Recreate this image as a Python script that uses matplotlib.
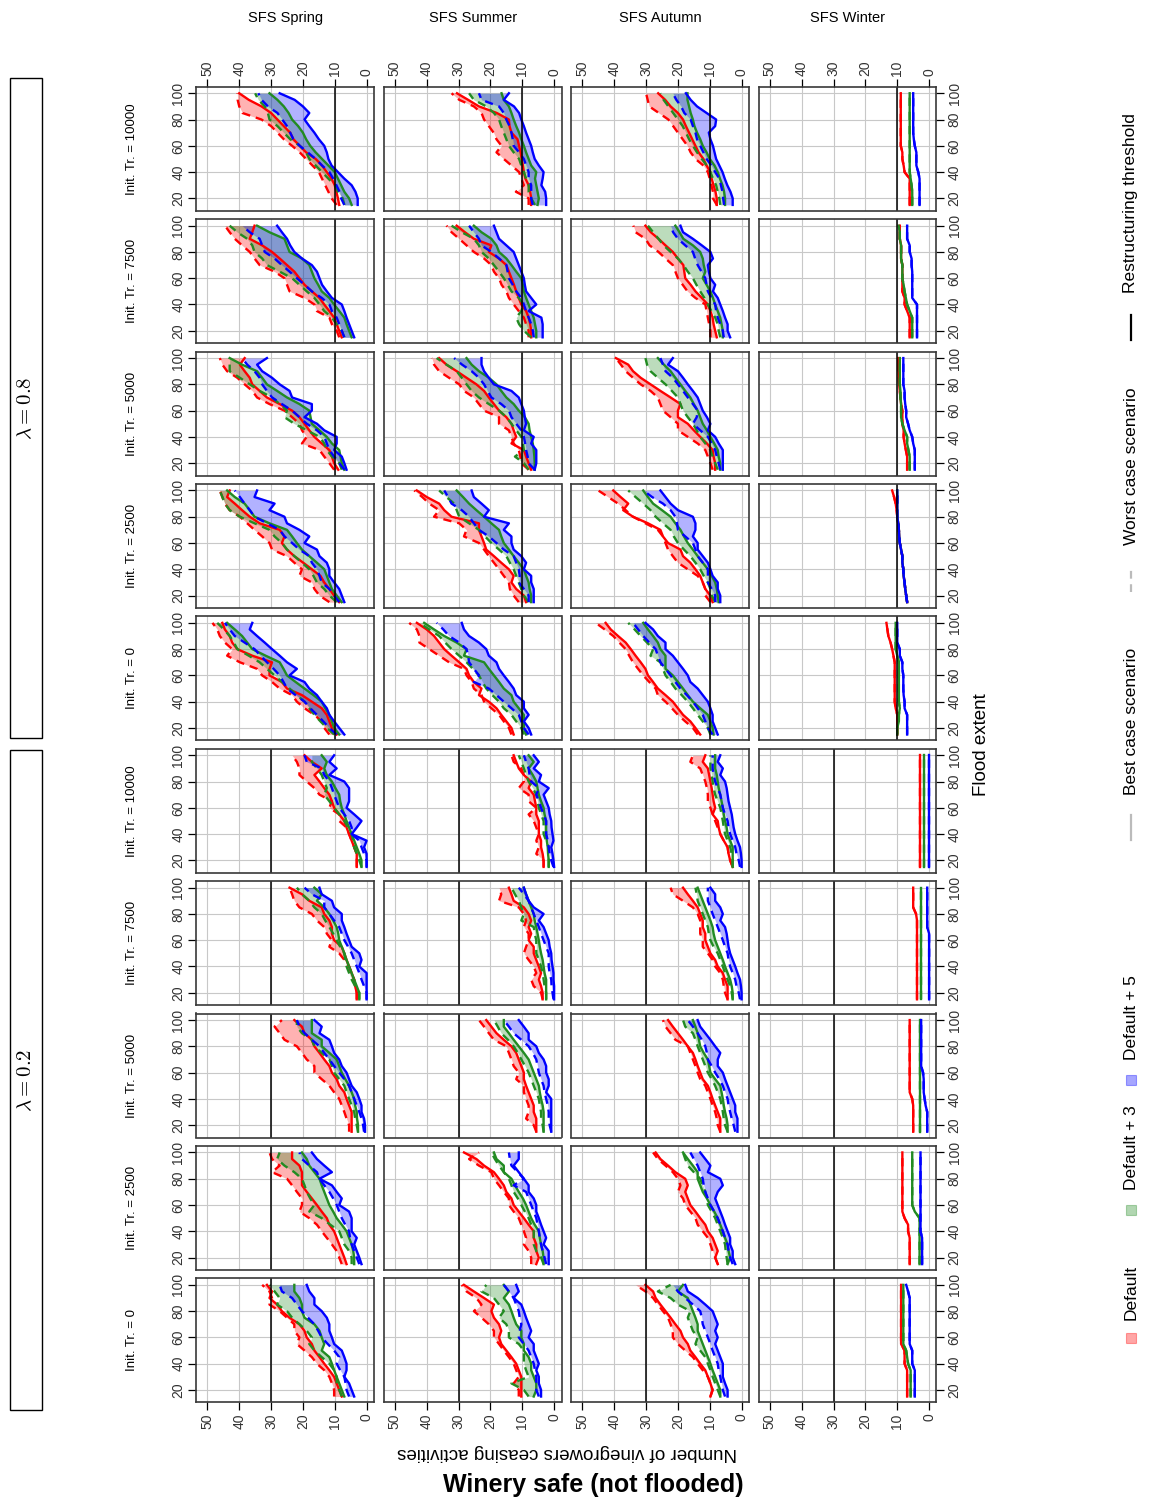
import matplotlib
matplotlib.use("Agg")
import matplotlib.pyplot as plt
from matplotlib.patches import Rectangle
from matplotlib.lines import Line2D

plt.rcParams['font.family'] = ['Liberation Sans', 'DejaVu Sans']
plt.rcParams['mathtext.fontset'] = 'cm'

# Flood extent values (y of every panel)
flood = [15, 20, 25, 30, 35, 40, 45, 50, 55, 60, 65, 70, 75, 80, 85, 90, 95, 100]
seasons = ['SFS Spring', 'SFS Summer', 'SFS Autumn', 'SFS Winter']
init_tr = [0, 2500, 5000, 7500, 10000]
lambdas = [0.8, 0.2]
threshold = {0.8: 10, 0.2: 30}
scen_names = ['Default', 'Default + 3', 'Default + 5']
scen_colors = ['#ff0000', '#228b22', '#0000ff']

# Each panel: [red best, red worst, green best, green worst, blue best, blue worst]
# panels ordered by init_tr (0, 2500, 5000, 7500, 10000)
spring_08 = [
    [[9.4, 10.9, 11.7, 12.5, 14.1, 17.2, 20.3, 25, 26.6, 30.5, 30.5, 29.7, 35.9, 40.6, 42.2, 43, 44.5, 45.3],
     [11.7, 13.3, 14.1, 16.4, 19.5, 21.9, 23.4, 27.3, 29.7, 32.8, 34.4, 39.8, 43.8, 42.2, 44.5, 46.1, 46.9, 48.4],
     [8.6, 10.2, 10.9, 11.7, 13, 14.1, 16.7, 19.5, 22.3, 25, 26.1, 27.3, 31.7, 35.9, 37.5, 39.1, 41.4, 43.8],
     [10.2, 12.5, 14.5, 16.4, 18, 19.5, 21.9, 24.2, 26.6, 28.9, 31.3, 33.6, 37, 40.6, 41.7, 43, 44.8, 46.9],
     [7, 8.6, 10.2, 11.7, 12.5, 14.1, 15.6, 18, 19.5, 24.2, 21.9, 25, 27.3, 29.7, 32, 34.4, 36.7, 35.9],
     [9.4, 11.7, 13.6, 15.6, 17.7, 19.5, 22.3, 25, 26.1, 27.3, 29.2, 31.3, 33.3, 35.2, 38.3, 41.4, 43, 44.5]],
    [[8.6, 10.2, 11.7, 13.3, 14.5, 17.2, 19.9, 22.7, 25, 26.6, 25.8, 27.3, 33.6, 36.7, 39.1, 41.4, 43.8, 43],
     [11.7, 14.8, 16.4, 17.2, 21.1, 20.3, 22.7, 25, 29.7, 30.5, 32.8, 35.2, 37.5, 39.8, 43, 44.5, 45.3, 46.1],
     [7.8, 9.4, 10.9, 11.7, 12.5, 13.3, 15.6, 18, 20.3, 21.9, 23.4, 25, 30.5, 35.2, 36.7, 38.3, 41.4, 43.8],
     [9.4, 11.7, 13.3, 15.6, 16.7, 18, 20.3, 22.7, 25, 26.6, 28.9, 30.5, 35.2, 39.8, 43, 44.5, 45.3, 46.1],
     [7, 7.8, 8.6, 10.2, 11.7, 11.7, 12.5, 14.8, 15.6, 19.5, 18, 21.1, 25, 25.8, 30.5, 28.9, 35.2, 34.4],
     [8.6, 10.2, 11.7, 14.1, 14.8, 15.6, 17.2, 18, 21.1, 23.4, 25.8, 27.3, 31.3, 35.2, 36.7, 38.3, 39.8, 41.4]],
    [[8.9, 10.2, 10.9, 11.7, 14.1, 16.4, 18, 19.5, 21.1, 23.4, 27.3, 31.3, 33.6, 35.9, 36.7, 38.3, 39.8, 38.3],
     [10.2, 11.7, 13.3, 14.8, 20.3, 18.8, 20.3, 21.1, 23.4, 25.8, 30.5, 34.4, 35.9, 38.3, 40.6, 43.8, 45.3, 46.1],
     [7, 7.8, 8.2, 8.6, 10.9, 12.5, 14.8, 17.2, 17.6, 18, 21.1, 25, 28.1, 31.3, 32.8, 34.4, 39.1, 43],
     [7.8, 8.6, 10.9, 12.5, 13.3, 14.8, 18.8, 22.7, 25.8, 25, 27.3, 29.7, 33.6, 36.7, 39.8, 43, 43, 43],
     [6.3, 7, 7.8, 10.2, 9.4, 9.4, 13.3, 15.6, 19.5, 17.2, 17.2, 23.4, 24.2, 27.3, 29.7, 32.8, 34.4, 31.3],
     [7, 8.6, 10.2, 11.7, 12.5, 13.3, 15.6, 18.8, 21.1, 23.4, 26.6, 29.7, 31.3, 32.8, 33.6, 35.2, 37.5, 39.1]],
    [[7.8, 8.6, 9.4, 10.2, 11.7, 13.3, 14.8, 17.2, 19.5, 21.1, 22.7, 25, 27.3, 29.7, 32.8, 36.7, 35.9, 35.2],
     [8.6, 9.4, 10.9, 11.7, 15.6, 16.4, 19.5, 24.2, 25, 25.8, 28.9, 33.6, 35.2, 36.7, 39.1, 41.4, 43, 44.5],
     [4.7, 5.5, 6.3, 7, 8.6, 10.2, 11.7, 14.1, 15.2, 16.4, 17.2, 18, 20.3, 24.2, 25, 25.8, 30.5, 34.4],
     [7, 7.8, 9.4, 10.9, 13.3, 14.8, 16.4, 18.8, 21.1, 23.4, 27.3, 31.3, 32.8, 35.2, 35.9, 37.5, 40.6, 43],
     [3.9, 4.7, 5.5, 6.3, 7, 7.8, 10.9, 12.5, 14, 14.8, 15.6, 17.2, 20.3, 22.7, 24, 25, 26.6, 28.1],
     [7, 7.8, 8.6, 9.4, 10.9, 11.7, 14.1, 17.2, 19.5, 21.9, 24.2, 26.6, 28.9, 32, 32.8, 33.6, 36.7, 39.1]],
    [[8.6, 9, 9.5, 10, 11, 12.5, 14, 16, 19, 21, 23, 24, 26, 28, 30, 33, 37, 40],
     [9.4, 11, 12, 13, 14, 15, 17, 19, 21, 23.4, 26, 28, 30, 33, 39, 40, 40.5, 40.6],
     [4.7, 5.5, 7, 8, 9, 10, 12, 14, 16, 17.7, 19, 20, 21.5, 23.4, 24.5, 26, 28, 30.5],
     [7, 7.5, 9, 10, 12, 14, 16, 18, 19, 21, 24, 26, 28, 30.5, 31, 32, 34, 35],
     [2.8, 2.8, 3.5, 4.7, 7, 9, 11, 12, 12.5, 13.3, 15, 16.4, 18, 19.5, 18, 20, 22.6, 27.3],
     [7, 8, 8.5, 9.5, 10.5, 11.7, 14, 16, 18.5, 21, 23, 24, 25, 26.5, 28, 31, 33, 34]],
]

summer_08 = [
    [[12.7, 13.4, 15, 16.6, 18.1, 20.5, 23.6, 22.8, 25.2, 26.7, 27.5, 29.8, 32.2, 34.5, 36.1, 37.7, 40, 43.1],
     [13.4, 14.2, 15.8, 17.3, 19.7, 22, 22.8, 25.2, 25.9, 27.5, 28.3, 33, 36.1, 39.2, 42.3, 42.3, 43.1, 45.5],
     [8.8, 9.5, 9.5, 9.5, 11.1, 12.7, 13.4, 15.8, 17.3, 18.9, 20.5, 22, 28.3, 27.5, 30.6, 34.5, 37.7, 40.8],
     [9.5, 10.3, 11.9, 13.4, 15.8, 17.3, 19.4, 21.3, 22.5, 23.6, 25.5, 27.5, 29.8, 32.2, 34.2, 36.1, 39.2, 42.3],
     [7.2, 8, 9.5, 8, 9.5, 9.5, 11.9, 12.7, 14.2, 15.8, 17.3, 18.1, 20.5, 21.3, 23.6, 26.7, 28.3, 29],
     [8, 9.5, 10.3, 11.1, 13.4, 15.8, 18.1, 20.5, 25.2, 23.6, 25.2, 26.7, 27, 27.5, 29.8, 33, 34.8, 36.9]],
    [[8.8, 9.5, 11.9, 13.4, 12.7, 14.2, 16.6, 18.9, 21.3, 22, 22.8, 23.6, 23.6, 32.2, 34.5, 36.1, 40, 43.1],
     [11.1, 12.7, 13.9, 14.2, 15.8, 17.3, 18.9, 20.5, 22, 23.6, 28.3, 27.5, 29.8, 37.7, 36.1, 39.2, 41.4, 43.9],
     [7.2, 7.2, 7.7, 8, 8.8, 9.5, 11.1, 12.7, 14.2, 15.8, 16.6, 17.3, 19.7, 22, 24.4, 26.7, 28.6, 30.6],
     [8, 9.5, 10.3, 11.1, 11.9, 12.7, 13.9, 15, 17.3, 19.7, 21.7, 23.6, 26.7, 29.8, 30.6, 31.4, 33.8, 36.1],
     [6.4, 6.4, 6.4, 7.2, 7.2, 9.5, 8.8, 10.3, 12.7, 13.4, 13.4, 15.8, 14.2, 22, 20.5, 22.8, 25.2, 25.9],
     [8, 8, 9.5, 11.1, 10.8, 11.1, 11.9, 12.7, 15.8, 18.1, 20.5, 23.6, 25.2, 26.7, 29, 32.2, 33.3, 34.5]],
    [[7.2, 8, 8.8, 9.5, 13.4, 11.9, 12.7, 13.4, 15, 17.3, 18.9, 20.5, 22, 24.4, 27.5, 30.6, 33.8, 36.1],
     [8, 10.3, 10.6, 11.1, 12.7, 13.4, 14.2, 17.3, 17.3, 22, 23.6, 25.2, 28.3, 29.8, 33, 36.1, 37.7, 38.4],
     [6.1, 6.1, 6.2, 6.4, 6.7, 7.2, 7.7, 8, 9.2, 11.1, 12.7, 15, 16.6, 18.1, 20.5, 23.6, 25.9, 27.5],
     [8, 9.5, 12.3, 9.5, 9.8, 10.3, 11.9, 13.4, 15, 17.3, 20.5, 23.6, 25.9, 27.5, 29, 30.6, 33.8, 36.9],
     [6.1, 5.6, 5.6, 5.6, 7.2, 6.4, 9.5, 8.8, 9.2, 9.5, 10.3, 11.1, 13.4, 18.9, 20.5, 22, 22.8, 22.8],
     [6.1, 8, 8.3, 8.8, 9.1, 9.5, 10.3, 11.9, 13.4, 14.2, 16.6, 19.7, 20.9, 22, 23.6, 25.9, 28.9, 31.4]],
    [[7.2, 7.2, 7.5, 8, 8.8, 10.3, 11.1, 11.9, 12.6, 13.4, 14.2, 15, 17.3, 20.5, 19.7, 25.2, 28, 30.6],
     [8, 8, 8.8, 9.5, 11.1, 12.7, 14.2, 15, 16.5, 17.3, 18.9, 19.7, 22, 25.2, 27.5, 29.8, 32.2, 33.8],
     [5.6, 5.6, 6, 6.4, 7.2, 8, 8.8, 9.5, 9.8, 10.3, 11.9, 13.4, 15, 17.3, 18.1, 19.7, 22.8, 25.2],
     [7.2, 9.5, 11, 11.9, 10.3, 9.5, 11.1, 13.4, 14.6, 15.8, 17.3, 18.9, 20.5, 22.8, 23.6, 25.2, 29, 32.2],
     [3.6, 3.6, 3.6, 4, 8, 5.6, 7.2, 8.8, 9.2, 9.5, 10.3, 11.1, 11.9, 12.7, 15, 17.3, 18.1, 18.9],
     [6.4, 6.7, 7.2, 8, 8.8, 9.5, 10.3, 11.9, 13, 14.2, 14.6, 15, 17.3, 19.7, 22.8, 23.6, 25.2, 26.7]],
    [[7.2, 7.2, 7.5, 8, 9, 9.5, 9.8, 10.2, 10.5, 11, 11.5, 13.4, 14, 14.2, 18, 23.6, 27, 30.5],
     [8, 8, 12, 9.5, 10.3, 11, 13.4, 15.8, 18.1, 16.5, 18.1, 19, 20.5, 22, 22.8, 25.2, 29.8, 32.2],
     [5.2, 4.8, 5.2, 5.6, 6, 5.6, 7.2, 8, 8.8, 9.5, 10.3, 11, 11.9, 12.7, 13.4, 14.2, 15.8, 16.5],
     [6, 7.2, 8, 8, 8.8, 9.5, 10.3, 11, 12.7, 14.2, 15, 15.8, 16.6, 17.3, 18.9, 21.3, 25.2, 26.7],
     [2.5, 2.5, 2.8, 4, 3.6, 3.3, 4.8, 6.1, 6.7, 7.2, 8, 8.8, 9.5, 10.3, 11, 12.6, 15.8, 14.2],
     [6.7, 7.2, 7.2, 7.2, 8, 8, 8.8, 9.5, 11, 12.7, 13, 13.4, 14, 15, 15.8, 17.3, 22.8, 23.6]],
]

autumn_08 = [
    [[13, 14.5, 16.1, 18.4, 20, 21.6, 23.9, 26.3, 27.8, 29.4, 30.2, 31.7, 33.3, 34.8, 36.4, 38.8, 41.1, 42.7],
     [13.8, 15.3, 17.7, 20, 21.9, 23.9, 26.3, 27, 29, 30.9, 32.5, 34.1, 35.3, 36.4, 38.4, 40.3, 43, 45.8],
     [8.8, 9.1, 9.8, 10.6, 13, 15.3, 16.9, 18.4, 20, 21.6, 23.9, 23.9, 23.9, 25.5, 26.3, 27.8, 29.4, 30.9],
     [9.8, 10.6, 12.2, 13.8, 15.3, 16.9, 18.8, 20.8, 22.3, 23.9, 24.7, 25.5, 28.6, 27.8, 29.7, 31.7, 33.6, 35.6],
     [7.5, 8.3, 9.1, 9.1, 9.8, 10.6, 12.2, 13.8, 16.1, 16.9, 18.4, 20, 21.6, 23.9, 23.9, 26.3, 27.8, 30.2],
     [9.1, 10.6, 11.4, 12.2, 13.8, 15.3, 17.2, 19.2, 20.8, 22.3, 23.9, 25.5, 26.3, 27, 29, 30.9, 32.5, 34.1]],
    [[9.1, 9.8, 11.4, 12.2, 13, 14.5, 16.1, 18.4, 19.2, 23.1, 24.7, 25.5, 29.4, 34.1, 37.2, 35.6, 38, 40.3],
     [9.8, 11.4, 11.4, 12.2, 13.8, 16.9, 20, 21.6, 23.1, 23.9, 24.7, 26.3, 30.2, 34.1, 36.4, 38.8, 41.9, 45],
     [7.2, 7.5, 7.8, 8.3, 9.4, 10.6, 12.2, 13.8, 15.3, 16.9, 18.1, 19.2, 20.8, 22.3, 25, 27.8, 29.4, 30.9],
     [8.3, 9.4, 9.8, 10.6, 11.9, 13, 14.5, 16.1, 18.1, 20, 21.3, 22.3, 24.7, 27, 28.6, 30.9, 33.3, 35.6],
     [6.7, 6.7, 7.5, 7.5, 9.1, 9.8, 10.6, 12.2, 13.8, 13.8, 15.3, 14.5, 14.5, 15.3, 20, 22.3, 23.9, 25.5],
     [8.3, 8.3, 9.4, 10.6, 10.6, 10.6, 12.2, 13.8, 14.5, 15.3, 17.7, 20, 20.3, 20.8, 22.3, 24.7, 28.1, 30.9]],
    [[8.3, 8.3, 8.8, 9.1, 10.9, 13, 15, 16.9, 20, 20, 19.2, 22.3, 25.5, 28.6, 31.7, 34.1, 35.6, 39.5],
     [9.1, 9.8, 10.6, 11.4, 13.8, 16.9, 20, 20, 22.3, 24.7, 25.5, 26.3, 28.6, 31.7, 34.1, 36.4, 37.9, 39.5],
     [6.7, 6.7, 7.2, 7.5, 8.6, 9.8, 10.9, 12.2, 13, 13.8, 15, 16.1, 17.7, 19.2, 20.8, 22.3, 24.4, 26.3],
     [7.5, 8.3, 9.1, 9.8, 11.4, 13, 14.1, 15.3, 16.9, 18.4, 19.2, 20, 21.9, 23.9, 26.3, 28.6, 29.7, 30.2],
     [5.9, 5.9, 5.9, 5.9, 7.2, 8.3, 10.6, 9.8, 10.9, 12.2, 13, 13.8, 15.3, 16.9, 18.4, 20, 23.1, 21.6],
     [6.7, 7.2, 7.8, 8.3, 9.4, 10.6, 13, 15.3, 14.1, 13.8, 15.3, 16.9, 18.4, 20, 21.6, 23.9, 24.7, 25.5]],
    [[7.8, 8.3, 8.8, 9.1, 9.8, 10.6, 12.5, 14.5, 16, 17.7, 18, 18.3, 20, 21.6, 23.9, 26.1, 28.5, 30.2],
     [9.8, 9.8, 10.2, 10.6, 11, 11.4, 14.5, 17, 18.5, 20, 20.8, 21.6, 23.9, 26.1, 28.9, 30.2, 33.3, 34],
     [5.9, 5.9, 6.3, 6.7, 7.5, 8.3, 9, 9.8, 11, 12.2, 11.4, 11.9, 12.2, 13, 15.3, 18.3, 19.5, 20.8],
     [6.7, 7.2, 7.5, 8.3, 9.5, 10.6, 11.7, 13, 14.2, 15.3, 16.9, 18.3, 20, 22.3, 24.5, 26.1, 27.8, 29.4],
     [3.6, 4.4, 4.4, 5.2, 5.9, 6.7, 7.5, 9, 8.3, 9.8, 10.3, 10.6, 9, 9.8, 12.5, 15.3, 18.4, 19.2],
     [5.6, 5.9, 6.7, 7.5, 8, 8.3, 9.5, 10.6, 11, 11.4, 12.6, 13.8, 14.6, 15.3, 17.7, 20, 21.5, 22.3]],
    [[7.8, 7.8, 8.2, 8.8, 9.4, 9.8, 11, 12, 13.5, 14.5, 15.5, 16.5, 17.5, 18.4, 20, 22.3, 24, 26.2],
     [7.8, 9, 9, 9.5, 10, 10.6, 12, 14.5, 16, 17, 18.5, 20, 21.5, 23, 26, 29, 29.5, 30],
     [5.2, 5.2, 5.5, 6, 6.8, 7.5, 8.5, 10, 11, 12.2, 13, 14, 14.8, 15.3, 16, 16.5, 17, 17],
     [6.7, 7, 7.5, 8, 9, 9.8, 11, 12.5, 14, 15.3, 16.5, 17.5, 18.5, 20, 21.5, 23, 24.5, 25.5],
     [2.8, 2.8, 3.5, 4.5, 5.3, 6, 7, 8, 8.5, 9, 9.8, 10.3, 8.3, 8, 11, 14, 16, 17.5],
     [5.5, 5.8, 6, 6.5, 7, 8.3, 9.5, 11, 12, 13, 14, 14.5, 15.3, 16, 18, 19, 20.5, 21.6]],
]

# Winter: best and worst case coincide, one line per scenario [red, green, blue]
winter_08 = [
    [[10, 10, 10, 10, 10.5, 10.8, 10.8, 10.8, 10.8, 10.8, 10.8, 10.8, 11.2, 11.6, 12.1, 12.8, 13.1, 13.4],
     [10, 10, 9.5, 9.5, 9.2, 9.5, 9.5, 9.5, 9.5, 9.5, 9.5, 9.5, 10, 10.5, 10.5, 10.5, 10.5, 10.5],
     [6.9, 6.9, 6.9, 6.9, 7.7, 7.7, 8, 8.1, 8.1, 8.1, 8.4, 8.4, 9.2, 9.2, 10, 10, 10, 10]],
    [[6.9, 7.2, 7.5, 7.7, 8, 8.1, 8.4, 8.4, 8.8, 9.2, 9.4, 9.5, 9.7, 10, 10.2, 10.5, 11, 11.6],
     [6.9, 7.2, 7.5, 7.7, 8, 8.1, 8.4, 8.4, 8.8, 9.2, 9.4, 9.5, 9.7, 10, 10, 10, 10, 10],
     [6.9, 7.2, 7.5, 7.7, 8, 8.1, 8.4, 8.4, 8.8, 9.2, 9.4, 9.5, 9.7, 10, 10, 10, 10, 10]],
    [[6.9, 6.9, 6.9, 7.3, 7.7, 8, 8, 8.4, 8.4, 8.4, 8.8, 9, 9.2, 9.4, 9.5, 9.6, 9.7, 9.7],
     [6.1, 6.1, 6.1, 6.5, 6.9, 6.9, 7.7, 8.4, 8.8, 8.8, 8.8, 9, 9, 9.2, 9.2, 9.2, 9.2, 9.2],
     [4.5, 4.5, 4.5, 4.5, 5, 5.3, 6.1, 6.6, 7.2, 7.2, 7.5, 7.7, 7.7, 8.1, 8.1, 8.1, 8.1, 8.1]],
    [[6.1, 6.1, 6.1, 6.1, 6.9, 7.7, 7.7, 8.4, 8.4, 8.4, 8.4, 8.4, 8.8, 8.8, 8.8, 9.2, 9.2, 9.2],
     [5.3, 5.3, 5.3, 5.3, 6.1, 6.9, 7.3, 7.7, 8, 8.4, 8.4, 8.4, 8.8, 8.8, 8.8, 9.2, 9.2, 9.6],
     [3.8, 3.8, 3.8, 3.8, 3.8, 3.8, 5.3, 5.3, 5.3, 5.3, 5.3, 5.5, 5.5, 6.1, 6.1, 6.9, 6.9, 6.9]],
    [[6.1, 6.1, 6.1, 6.1, 6.1, 7.7, 8, 8.4, 8.4, 8.9, 8.9, 8.9, 8.9, 8.9, 8.9, 8.9, 8.9, 8.9],
     [5.3, 5.3, 5.3, 5.5, 5.8, 6.1, 6.1, 6.1, 6.1, 6.1, 6.1, 6.1, 6.1, 6.1, 6.1, 6.1, 6.1, 6.1],
     [3, 3, 3, 3, 3, 3.4, 4, 4, 4, 4.5, 4.8, 5, 5, 5, 5, 5, 5, 5]],
]

spring_02 = [
    [[7.8, 8.6, 9.4, 10.2, 11.7, 13.3, 14.8, 16.4, 17.2, 18.8, 19.5, 21.1, 24.2, 26.6, 28.1, 30.5, 29.7, 31.3],
     [10.2, 10.2, 10.9, 11.7, 13.3, 15.6, 17.2, 19.5, 21.9, 21.1, 22.7, 22.7, 25, 27.3, 30.5, 29.7, 30.5, 32.8],
     [7, 7.8, 8.6, 9.4, 10.2, 10.9, 11.7, 14.1, 13.3, 14.1, 14.8, 16.4, 19.5, 20.3, 20.3, 21.1, 22.7, 22.7],
     [7.8, 8.6, 9.4, 9.4, 10.2, 11.7, 14.1, 16.4, 18, 17.2, 18.8, 21.1, 23.4, 25, 28.1, 27.3, 28.9, 30.5],
     [3.9, 4.7, 5.5, 7, 6.3, 6.3, 7, 7.8, 10.2, 10.9, 11.7, 11.7, 12.5, 14.1, 16.4, 16.4, 18, 18.8],
     [5.5, 6.3, 6.6, 7, 8.3, 9.4, 8.6, 10.2, 12.2, 14.1, 15.2, 16.4, 18.4, 20.3, 21.9, 23.4, 26.6, 27.3]],
    [[6.3, 7, 7.8, 8.6, 9.4, 10.2, 11.7, 12.5, 14.1, 15.6, 17.2, 18.8, 20.3, 20.3, 20.3, 21.1, 23.4, 23.4],
     [7.8, 8.6, 9.4, 10.9, 12.5, 14.1, 15.6, 18, 21.1, 20.3, 20.3, 21.9, 23.4, 25, 29.7, 27.3, 29.7, 30.5],
     [3.9, 3.9, 4.2, 4.7, 5.5, 6.3, 7.8, 9.4, 10.5, 11.7, 12.5, 13.3, 14.1, 14.8, 16.4, 18, 18.8, 20.3],
     [4.7, 4.7, 5.5, 7, 7.8, 8.6, 11.4, 14.1, 18, 16.4, 17.7, 18.8, 19.5, 20.3, 22.7, 25.8, 28.1, 27.3],
     [1.6, 2.3, 3.1, 3.9, 3.1, 4.7, 4.7, 4.7, 5.5, 8.6, 7.8, 9.4, 10.9, 14.8, 10.9, 13.3, 15.6, 17.2],
     [2.3, 3.1, 3.9, 4.7, 5.2, 5.5, 6.7, 7.8, 8.6, 9.4, 10.5, 11.7, 13.3, 14.8, 15.6, 18, 20.3, 21.1]],
    [[4.7, 4.7, 4.7, 4.7, 5.5, 6.3, 7, 8.6, 9.4, 10.9, 11.7, 13.3, 14.8, 16.4, 17.2, 19.5, 20.3, 22.7],
     [5.5, 5.5, 6.3, 7, 7.8, 8.6, 10.2, 11.7, 14.1, 16.4, 16.4, 18.8, 20.3, 21.9, 25.8, 27.3, 28.9, 26.6],
     [2.7, 2.7, 3, 3.1, 3.6, 3.9, 4.7, 5.5, 6.7, 7.8, 8.6, 9.4, 11.7, 14.1, 14.1, 17.2, 17.2, 17.2],
     [2.7, 3.1, 3.6, 3.9, 4.7, 5.5, 6.3, 7, 8.6, 10.2, 10.9, 11.7, 14.1, 16.4, 17.2, 20.3, 21.9, 21.9],
     [0.5, 0.5, 0.8, 1.6, 1.6, 2.3, 3.1, 4.7, 5.5, 6.3, 7.8, 8.6, 10.2, 10.9, 11.7, 14.8, 14.1, 16.4],
     [0.8, 1.1, 1.6, 2.3, 3.1, 3.9, 4.7, 5.5, 7, 8.6, 10.2, 11.7, 13.3, 14.8, 17.2, 19.5, 21.1, 21.9]],
    [[3.1, 3.1, 3.6, 3.9, 4.7, 5.5, 6.3, 7, 7.8, 10.2, 10.9, 10.9, 11.7, 13.3, 14.1, 18, 20.3, 24.2],
     [3.1, 3.1, 3.6, 3.9, 4.7, 5.5, 7, 8.6, 11.7, 10.9, 12.5, 13.3, 15.6, 17.2, 21.1, 22.7, 23.4, 24.2],
     [2.3, 2.3, 3.1, 3.9, 4.7, 5.5, 6.3, 7, 7.8, 8.6, 8.9, 9.4, 10.5, 11.7, 13.3, 15.6, 14.1, 16.4],
     [2.3, 2.3, 3.6, 4.7, 5.5, 6.3, 6.7, 7, 8.3, 9.4, 10.5, 11.7, 13, 14.1, 16.4, 18, 20.3, 21.9],
     [0, 0, 0, 0, 0, 2.3, 1.6, 2.3, 4.7, 5.5, 6.3, 7, 7.8, 7.8, 10.2, 10.9, 14.1, 14.8],
     [0, 0, 0.8, 1.6, 2.3, 3.1, 3.9, 4.7, 5.8, 7, 7.8, 8.6, 10.2, 11.7, 13.3, 13.3, 17.2, 19.5]],
    [[3.1, 3.1, 3.1, 3.9, 4.7, 5.5, 6.3, 7, 8.6, 10.2, 10.9, 11.7, 13.3, 14.8, 16.4, 14.1, 17.2, 19.5],
     [3.1, 3.1, 3.1, 3.9, 4.7, 5.5, 6.3, 8.6, 8.6, 11.7, 10.9, 14.8, 16.4, 18.8, 21.1, 21.1, 21.9, 23.4],
     [1.6, 1.6, 2.3, 3.1, 3.9, 4.7, 5.5, 6.3, 7, 7.8, 8.3, 8.6, 9.8, 10.9, 12.5, 13.3, 12.5, 14.1],
     [1.6, 2.3, 3.1, 3.9, 4.2, 4.7, 5.8, 7, 8.6, 10.2, 11.7, 13.3, 12.5, 13.3, 14.1, 15.6, 17.2, 17.2],
     [0, 0, 0, 0.8, 0, 4.7, 3.1, 1.6, 3.9, 6.3, 5.5, 5.5, 5.5, 7, 11.7, 9.4, 11.7, 10.2],
     [0, 0, 0.8, 1.6, 2.3, 4.7, 4.7, 5.5, 7, 8.6, 9.4, 10.2, 10.9, 11.7, 13.3, 14.1, 18.8, 19.5]],
]

summer_02 = [
    [[10.3, 10.3, 10.3, 10.3, 11.1, 11.9, 13.4, 15, 16.6, 17.3, 16.6, 17.3, 18.9, 19.7, 18.9, 22, 25.2, 28.3],
     [11.1, 11.1, 12.7, 11.1, 11.9, 12.7, 14.2, 15.8, 17.3, 18.9, 18.9, 20.5, 22.8, 25.2, 22.8, 24.4, 27.5, 29],
     [6.4, 5.6, 5.6, 6.4, 7.2, 7.2, 8, 9.5, 9.5, 10.3, 10.3, 11.9, 12.7, 13.4, 14.2, 15.8, 14.2, 15.8],
     [8, 9.5, 13.4, 8, 8.8, 9.5, 9.5, 9.5, 11.1, 14.2, 14.2, 15, 17.3, 15.8, 17.3, 18.9, 22.8, 21.3],
     [4.1, 4.1, 4.8, 4.8, 5.6, 4.8, 5.6, 6.4, 6.4, 8, 7.2, 8, 8.8, 9.5, 10.3, 12.7, 11.1, 11.9],
     [4.8, 5.6, 5.6, 5.6, 6, 6.4, 7.2, 8, 9.5, 11.1, 10.8, 10.3, 10.8, 11.1, 11.9, 12.7, 14.2, 15.8]],
    [[5.6, 4.8, 5.6, 5.6, 6.4, 6.4, 8, 9.5, 11.1, 12.7, 13.4, 15, 15.8, 17.3, 18.9, 22, 24.4, 28.3],
     [7.2, 7.2, 8, 9.5, 8.8, 9.5, 10.3, 11.1, 12.7, 14.2, 14.2, 15.8, 17.3, 18.9, 19.7, 23.6, 26.7, 23.6],
     [3.3, 3.3, 3.6, 4.1, 4.5, 4.8, 6.1, 7.2, 8, 8.8, 9.8, 11.1, 12.3, 13.4, 15.8, 15.8, 18.1, 18.9],
     [3.3, 4.1, 5.6, 6.4, 6.4, 6.4, 7.2, 8, 9.2, 10.3, 11.4, 12.7, 13.4, 14.2, 15.8, 17.3, 18.6, 19.7],
     [1.7, 1.7, 1.7, 3.3, 2.5, 3.3, 4.1, 4.8, 5.6, 5.6, 6.4, 8, 8, 9.5, 11.1, 12.7, 11.1, 11.1],
     [2.5, 3, 3.6, 4.1, 4.5, 4.8, 5.2, 5.6, 6.4, 7.2, 8, 8.8, 12.7, 9.5, 11.4, 13.4, 13.9, 14.2]],
    [[5.6, 5.6, 5.6, 6.4, 6.4, 7.2, 8, 8.8, 9.5, 9.5, 10.3, 11.1, 11.9, 13.4, 15.8, 18.1, 19.7, 21.3],
     [5.6, 6.4, 8.8, 8, 8, 8.8, 9.5, 9.5, 11.9, 11.1, 12.7, 13.4, 14.2, 15, 18.9, 20.5, 22, 23.6],
     [3.3, 3.3, 3.3, 3.3, 3.6, 4.1, 4.5, 4.8, 5.6, 6.4, 7.2, 8, 9.5, 11.1, 12.7, 14.2, 15.8, 15.8],
     [3.3, 3.6, 4.1, 4.1, 4.5, 4.8, 5.6, 6.4, 7.2, 8, 9.1, 10.3, 11.4, 12.7, 14.5, 16.6, 17.7, 18.9],
     [0.9, 0.9, 0.9, 0.9, 0.9, 0.9, 2.5, 1.7, 1.7, 2.5, 2.5, 3.3, 4.8, 5.6, 8, 8, 9.5, 11.1],
     [0.9, 1.4, 1.7, 1.7, 2, 2.5, 3, 3.3, 4.1, 4.8, 5.2, 5.6, 6.7, 8, 10.3, 12.7, 14.2, 15.8]],
    [[3.6, 3.6, 4.1, 4.8, 4.1, 4.8, 5.6, 6.4, 6.4, 8, 7.2, 8, 7.2, 8, 9.5, 12.7, 13.4, 14.2],
     [3.6, 4.1, 6.4, 7.2, 5.6, 6.4, 8, 9.5, 8.8, 8, 8, 9.5, 8.8, 9.5, 11.1, 17.3, 16.6, 17.3],
     [2.5, 2.5, 2.5, 2.5, 3, 3.3, 3.6, 4.1, 4.5, 4.8, 5.2, 5.6, 6.1, 6.4, 7.2, 8, 8.8, 9.5],
     [2.5, 2.5, 3, 3.3, 3.6, 4.1, 4.8, 5.6, 5.6, 5.6, 6.1, 6.4, 10.3, 9.5, 10.3, 11.1, 12.3, 13.4],
     [0, 0, 0, 0.2, 0.2, 0.5, 0.8, 0.9, 1.4, 1.7, 2.5, 3.3, 4.8, 3.3, 6.4, 8, 8.8, 9.5],
     [0.2, 0.5, 0.8, 0.9, 1.4, 1.7, 1.7, 1.7, 2.5, 3.3, 4.1, 4.8, 5.6, 6.4, 7.2, 8, 9.5, 11.1]],
    [[3.3, 3.3, 3.6, 4.1, 4.1, 4.8, 4.8, 4.8, 5.6, 5.6, 6, 6.4, 8, 7.2, 9.5, 11.1, 11.9, 12.7],
     [3.3, 3.3, 5.6, 4.8, 5.6, 4.8, 5.6, 6.4, 8, 5.6, 8, 8, 11.1, 9.5, 9.5, 10.3, 12.7, 13.4],
     [1.7, 1.7, 1.9, 2, 2.3, 2.5, 2.5, 2.5, 3, 3.3, 4.1, 4.8, 5.2, 5.6, 6.7, 8, 6.4, 8],
     [1.7, 1.7, 1.7, 1.7, 2.5, 3.3, 3.3, 3.3, 4.1, 4.8, 5.2, 5.6, 6.7, 8, 8.8, 9.5, 10.3, 11.1],
     [0, 0.2, 0.5, 0.9, 0.2, 0.5, 0.8, 0.9, 1.4, 1.7, 2.5, 3.3, 1.7, 4.8, 4.1, 6.4, 4.8, 6.4],
     [0.2, 0.9, 1.4, 1.7, 2, 2.5, 2.5, 2.5, 3.3, 4.1, 4.8, 5.6, 4.8, 7.2, 7.7, 8, 8.8, 9.5]],
]

autumn_02 = [
    [[9.8, 9.1, 9.8, 10.6, 11.4, 13, 14.5, 16.1, 16.9, 18.4, 19.2, 20.8, 22.3, 23.9, 25.5, 27, 27.8, 30.2],
     [9.8, 9.1, 9.8, 10.6, 12.2, 13.8, 15.3, 17.7, 20, 21.6, 21.6, 22.3, 23.1, 24.7, 26.3, 27.8, 30.2, 33.3],
     [6.7, 6.7, 7.5, 8.3, 9.1, 9.8, 10.6, 11.4, 12.2, 13, 13.8, 13.8, 14.5, 15.3, 16.1, 16.9, 20, 18.4],
     [6.7, 7.5, 8.3, 9.1, 9.8, 10.6, 11.4, 13, 14.5, 13.8, 15.3, 16.1, 16.9, 16.1, 20, 22.3, 26.3, 22.3],
     [4.4, 4.4, 5.2, 5.9, 5.9, 5.9, 6.7, 7.5, 8.3, 7.5, 8.3, 7.5, 8.3, 9.1, 11.4, 13.8, 16.9, 17.7],
     [5.2, 5.9, 6.3, 6.7, 7.2, 7.5, 8.3, 9.1, 9.8, 10.6, 11.4, 12.2, 12.5, 13, 15.3, 17.7, 20, 21.6]],
    [[7.5, 8.3, 7.5, 8.3, 9.1, 10.6, 11.4, 13, 14.5, 16.1, 16.9, 17.7, 16.9, 17.7, 20.8, 23.1, 25.5, 27],
     [7.5, 8.3, 9.1, 9.8, 10.6, 12.2, 13.8, 14.5, 16.1, 17.7, 18.4, 20, 19.2, 20, 21.6, 23.9, 26.3, 27.8],
     [4.4, 3.6, 4.1, 4.4, 5.2, 5.9, 6.7, 7.5, 8.6, 9.8, 10.9, 12.2, 13, 13.8, 13.8, 15.3, 16.9, 18.4],
     [4.4, 4.7, 5, 5.2, 5.9, 6.7, 7.5, 8.3, 9.4, 10.6, 10.9, 11.4, 12.2, 13, 15, 16.9, 17.7, 18.4],
     [2, 2.8, 2.8, 3.6, 3.6, 4.4, 5.2, 5.9, 6.7, 7.5, 8.3, 7.5, 5.9, 6.7, 10.6, 9.8, 11.4, 13],
     [2.8, 3.6, 4.1, 4.4, 5.2, 5.9, 6.7, 7.5, 8.6, 9.8, 10.6, 11.4, 11.9, 12.2, 13, 13.8, 15, 16.1]],
    [[6.7, 6.7, 6.7, 7.5, 8.3, 9.1, 9.8, 10.6, 12.2, 13, 13.8, 14.5, 15.3, 16.9, 18.4, 20, 21.6, 23.1],
     [6.7, 7.5, 7.8, 8.3, 9.1, 9.8, 10.6, 11.4, 13, 13.8, 14.5, 15.3, 16.1, 16.9, 20.8, 22.3, 23.9, 24.7],
     [4.4, 4.4, 4.7, 5.2, 5.6, 5.9, 6.3, 6.7, 8.3, 9.8, 10.2, 10.6, 11.9, 13, 13.4, 13.8, 14.5, 15.3],
     [4.4, 5.2, 5.6, 5.9, 6.3, 6.7, 7.5, 8.3, 9.4, 10.6, 11.4, 12.2, 13, 13.8, 14.5, 15.3, 17.7, 18.4],
     [1.3, 1.3, 1.3, 2, 2, 2.8, 3.6, 4.4, 5.2, 5.9, 7.5, 7.5, 6.7, 8.3, 9.8, 11.4, 13, 13.8],
     [2, 2.5, 3.1, 3.6, 4.1, 4.4, 5.2, 5.9, 7, 8.3, 9.4, 10.6, 10.9, 11.4, 12.5, 13.8, 15.3, 16.9]],
    [[4.4, 4.4, 4.4, 5.2, 5.9, 7.5, 8.3, 9.8, 10.6, 11.4, 11.4, 12.2, 12.2, 13, 13.8, 15.3, 16.9, 18.4],
     [4.4, 5.2, 5.6, 5.9, 6.7, 8.3, 9.1, 10.6, 12.2, 12.2, 13, 13, 13, 13.8, 15.3, 18.4, 21.6, 22.3],
     [2.8, 2.8, 3.1, 3.6, 4.4, 5.2, 5.9, 6.7, 7.5, 8.3, 8.8, 9.1, 9.8, 10.6, 11.4, 12.2, 13, 13.8],
     [2.8, 3.1, 3.6, 4.4, 5.2, 5.9, 6.7, 7.5, 8.8, 9.8, 10.3, 10.6, 11.4, 12.2, 13, 13.8, 14.1, 14.5],
     [0, 0, 0.2, 0.5, 1.3, 2, 2.8, 3.6, 4.1, 4.4, 4.7, 5.2, 6.7, 5.9, 6.7, 8.3, 8.3, 9.8],
     [0.5, 0.9, 1.6, 2, 2.8, 3.6, 4.1, 4.4, 5.2, 5.9, 6.7, 7.5, 8.3, 9.1, 9.8, 10.6, 10.6, 10.6]],
    [[2.8, 3.6, 4.1, 4.4, 5.6, 6.7, 7.2, 7.5, 9.1, 8.3, 8.8, 9.1, 9.4, 9.8, 10.2, 10.6, 12.2, 11.4],
     [2.8, 3.6, 4.1, 4.4, 5.6, 6.7, 7.5, 8.3, 9.1, 9.8, 10.6, 10.6, 10.9, 11.4, 12.2, 13, 16.1, 15.3],
     [2.8, 2.8, 2.8, 2.8, 3.6, 4.4, 4.7, 5.2, 5.6, 5.9, 6.3, 6.7, 7.2, 7.5, 7.8, 8.3, 8.3, 8.3],
     [2.8, 2.8, 3.1, 3.6, 4.4, 5.2, 5.6, 5.9, 6.3, 6.7, 7.5, 8.3, 8.8, 9.1, 9.4, 9.8, 9.8, 9.8],
     [0, 0, 0.2, 0.5, 1.3, 2, 2.5, 2.8, 3.1, 3.6, 4.1, 4.4, 4.7, 5.2, 6.7, 5.9, 7.5, 6.7],
     [0.5, 0.9, 1.6, 2, 2.8, 3.6, 4.1, 4.4, 5.2, 5.9, 6.3, 6.7, 7.5, 8.3, 8.8, 9.1, 9.1, 9.1]],
]

winter_02 = [
    [[6.9, 6.9, 6.9, 6.9, 6.9, 7.7, 7.7, 7.7, 8.8, 8.8, 8.8, 8.8, 8.8, 8.8, 8.8, 8.8, 8.8, 8.8],
     [5.8, 5.8, 5.8, 5.8, 5.8, 6.6, 6.9, 7.2, 8.1, 8.1, 8.1, 8.1, 8.1, 8.1, 8.1, 8.1, 8.1, 8.1],
     [4.5, 4.5, 4.5, 4.5, 4.5, 5.3, 5.3, 5.3, 6.1, 6.1, 6.1, 6.1, 6.1, 6.1, 6.1, 6.1, 6.6, 7.2]],
    [[6.1, 6.1, 6.1, 6.1, 6.1, 6.6, 6.6, 7.7, 8.4, 8.4, 8.4, 8.4, 8.4, 8.4, 8.4, 8.4, 8.4, 8.4],
     [3, 3, 3, 3, 3, 3, 3, 3, 4.5, 5.3, 5.3, 5.3, 5.3, 5.3, 5.3, 5.3, 5.3, 5.3],
     [2.2, 2.2, 2.2, 2.2, 2.2, 2.7, 2.7, 2.7, 2.7, 2.7, 2.7, 2.7, 2.7, 2.7, 2.7, 2.7, 2.7, 2.7]],
    [[5, 5, 5, 5, 5, 5.3, 6.1, 6.1, 6.1, 6.1, 6.1, 6.1, 6.1, 6.1, 6.1, 6.1, 6.1, 6.1],
     [3, 3, 3, 3, 3, 3, 3, 3, 3, 3, 3, 3, 3, 3, 3, 3, 3, 3],
     [0.6, 0.6, 0.6, 0.6, 1.1, 1.4, 1.7, 1.7, 1.7, 1.9, 2.5, 2.5, 2.5, 2.5, 2.5, 2.5, 2.5, 2.5]],
    [[3.8, 3.8, 3.8, 3.8, 3.8, 3.8, 3.8, 3.8, 3.8, 3.8, 3.8, 3.8, 3.8, 4.1, 5, 5, 5, 5],
     [2.7, 2.7, 2.7, 2.7, 2.7, 2.7, 2.7, 2.7, 2.7, 2.7, 2.7, 2.7, 2.7, 2.7, 2.7, 2.7, 2.7, 2.7],
     [0, 0, 0, 0, 0, 0, 0, 0, 0, 0, 0, 0.6, 0.6, 0.6, 0.6, 0.6, 0.6, 0.6]],
    [[3, 3, 3, 3, 3, 3, 3, 3, 3, 3, 3, 3, 3, 3, 3, 3, 3, 3],
     [1.7, 1.7, 1.7, 1.7, 1.7, 1.7, 1.7, 1.7, 1.7, 1.7, 1.7, 1.7, 1.7, 1.7, 1.7, 1.7, 1.7, 1.7],
     [0, 0, 0, 0, 0, 0, 0, 0, 0, 0, 0, 0, 0, 0, 0, 0, 0, 0]],
]

data = {0.8: [spring_08, summer_08, autumn_08, winter_08],
        0.2: [spring_02, summer_02, autumn_02, winter_02]}

W, H = 1149, 1499
fig = plt.figure(figsize=(W / 100, H / 100), dpi=100)


def fbox(x0, y0, w, h):
    """ pixel box (top-left origin) -> figure fraction rect """
    return [x0 / W, 1 - (y0 + h) / H, w / W, h / H]


PX0, PDX, PW = 196.4, 187.5, 177.6
PY0, PDY, PH = 86.7, 132.4, 124
dash = (0, (3.5, 2.5))
tick_col = '#333333'

for li, lam in enumerate(lambdas):
    for k in range(5):
        row = li * 5 + k
        ii = 4 - k          # top row of each block is Init. Tr. = 10000
        top = PY0 + PDY * row
        for c in range(4):
            ax = fig.add_axes(fbox(PX0 + PDX * c, top, PW, PH))
            panel = data[lam][c][ii]
            if c == 3:
                pairs = [(s, s) for s in panel]
            else:
                pairs = [(panel[2 * j], panel[2 * j + 1]) for j in range(3)]

            for (best, worst), col in zip(pairs, scen_colors):
                ax.fill_betweenx(flood, best, worst, color=col, alpha=0.3, lw=0)
            for (best, worst), col in zip(pairs, scen_colors):
                ax.plot(worst, flood, color=col, lw=1.7, ls=dash)
                ax.plot(best, flood, color=col, lw=1.7)
            ax.axvline(threshold[lam], color='black', lw=1.1)

            ax.set_xlim(53.45, -2.32)
            ax.set_ylim(10.6, 105)
            ax.set_xticks(range(0, 51, 10))
            ax.set_yticks(range(20, 101, 20))
            ax.grid(color='#c8c8c8', lw=0.8)
            ax.set_axisbelow(True)
            for sp in ax.spines.values():
                sp.set_color('#383838')
                sp.set_linewidth(1.2)

            ax.tick_params(axis='x', top=(row == 0), labeltop=(row == 0),
                           bottom=(row == 9), labelbottom=(row == 9),
                           labelrotation=90)
            ax.tick_params(axis='y', left=(c == 0), labelleft=(c == 0),
                           right=(c == 3), labelright=(c == 3),
                           labelrotation=90)
            ax.tick_params(which='both', direction='out', length=6, width=0.9,
                           color='black', labelcolor=tick_col, labelsize=10, pad=2)
            for lab in ax.get_yticklabels():
                lab.set_va('center')

        fig.text(132 / W, 1 - (top + PH / 2) / H,
                 'Init. Tr. = %d' % init_tr[ii], rotation=90,
                 ha='center', va='center', fontsize=9.5)

# lambda strips on the left
for lam, (y0, y1) in zip(lambdas, [(78, 738), (750, 1410)]):
    fig.patches.append(Rectangle((10 / W, 1 - y1 / H), 32 / W, (y1 - y0) / H,
                                 transform=fig.transFigure, fill=False,
                                 edgecolor='black', lw=1.0))
    fig.text(26 / W, 1 - (y0 + y1) / 2 / H, r'$\lambda = %.1f$' % lam,
             rotation=90, ha='center', va='center', fontsize=15)

# season headers
for c, s in enumerate(seasons):
    fig.text((PX0 + PDX * c + PW / 2) / W, 1 - 18 / H, s,
             ha='center', va='center', fontsize=10.5)

fig.text(982 / W, 1 - 745 / H, 'Flood extent', rotation=90,
         ha='center', va='center', fontsize=13.5)
fig.text(567 / W, 1 - 1452 / H, 'Number of vinegrowers ceasing activities',
         rotation=180, ha='center', va='center', fontsize=13.5)
fig.text(593 / W, 1 - 1485 / H, 'Winery safe (not flooded)',
         ha='center', va='center', fontsize=18, fontweight='bold')

# legend (drawn by hand, rotated)
LX = 1131
for col, name, ysq, ytx in zip(scen_colors, scen_names,
                               [1338, 1210, 1080], [1320, 1190, 1060]):
    fig.patches.append(Rectangle(((LX - 5) / W, 1 - (ysq + 5) / H), 10 / W, 10 / H,
                                 transform=fig.transFigure, facecolor=col,
                                 alpha=0.35, edgecolor=col, lw=0.8))
    fig.text(LX / W, 1 - ytx / H, name, rotation=90, ha='center', va='bottom',
             fontsize=12.5)

for (ya, yb), ls, col, name, ytx in [((815, 840), '-', '#bbbbbb', 'Best case scenario', 795),
                                     ((566, 592), dash, '#bbbbbb', 'Worst case scenario', 545),
                                     ((315, 340), '-', 'black', 'Restructuring threshold', 293)]:
    fig.lines.append(Line2D([LX / W, LX / W], [1 - yb / H, 1 - ya / H],
                            transform=fig.transFigure, color=col, lw=1.6, ls=ls))
    fig.text(LX / W, 1 - ytx / H, name, rotation=90, ha='center', va='bottom',
             fontsize=12.5)

fig.savefig('out.png', dpi=100)
